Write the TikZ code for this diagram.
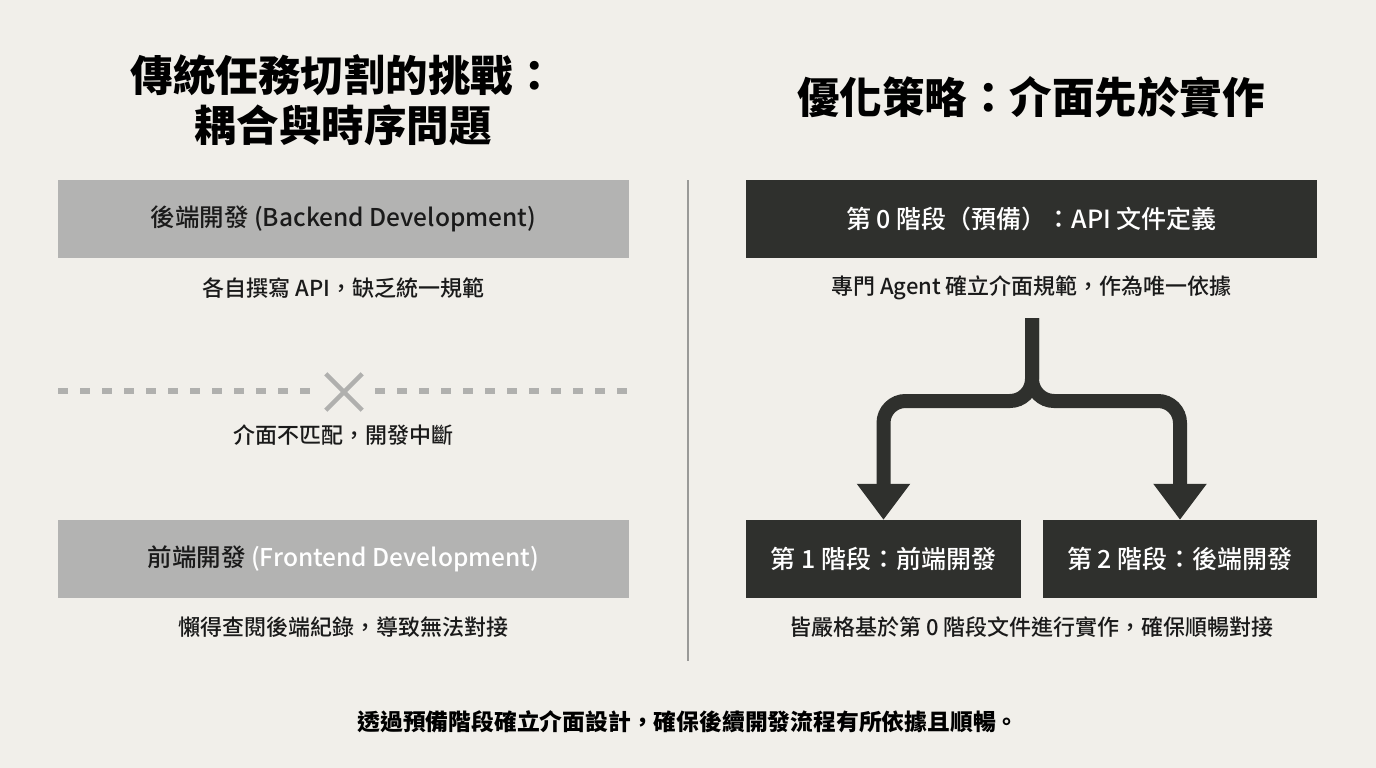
\documentclass[tikz,border=0pt]{standalone}
\usepackage{fontspec}
\setmainfont{Noto Sans CJK TC}
\newfontfamily\medfont{Noto Sans CJK TC Medium}
\usetikzlibrary{arrows.meta}
\definecolor{bg}{HTML}{F1EFEA}
\definecolor{greybox}{HTML}{B3B3B2}
\definecolor{darkbox}{HTML}{2F302D}
\definecolor{ink}{HTML}{1A1A1A}
\definecolor{dashgrey}{HTML}{B0B0AE}
\definecolor{divider}{HTML}{9A9A98}
\tikzset{
  greyblock/.style={fill=greybox, draw=none, minimum width=571pt, minimum height=78pt, inner sep=0pt, text=ink, font=\medfont\fontsize{24.5}{28}\selectfont},
  darkblock/.style={fill=darkbox, draw=none, minimum height=78pt, inner sep=0pt, text=white, font=\medfont\fontsize{25}{28}\selectfont},
  caption/.style={text=ink, inner sep=0pt, font=\medfont\fontsize{22}{26}\selectfont},
  titletext/.style={text=black, inner sep=0pt, align=center, font=\bfseries\fontsize{42.5}{50}\selectfont},
  flowarrow/.style={draw=darkbox, line width=14pt, rounded corners=22pt, -{Triangle[width=51pt,length=36pt]}},
  dashline/.style={dashgrey, line width=6pt, dash pattern=on 10pt off 12pt},
  crossline/.style={dashgrey, line width=4.5pt},
}
\begin{document}
\begin{tikzpicture}[x=1pt,y=-1pt]
\fill[bg] (0,0) rectangle (1376,768);
\useasboundingbox (0,0) rectangle (1376,768);

% titles
\node[titletext] (ltitle) at (343,100) {傳統任務切割的挑戰：\\耦合與時序問題};
\node[titletext] (rtitle) at (1031,97) {優化策略：介面先於實作};

% divider
\coordinate (dtop) at (688,180);
\coordinate (dbot) at (688,661);
\draw[divider, line width=1.2pt] (dtop) -- (dbot);

% left column
\node[greyblock] (back) at (343.5,219) {後端開發 (Backend Development)};
\node[caption] (backcap) at (343.5,288) {各自撰寫 API，缺乏統一規範};

\node[inner sep=0pt, minimum size=40pt] (cross) at (344,392) {};
\coordinate (dl) at (58,391);
\coordinate (dr) at (629,391);
\draw[dashline] (dl) -- ([xshift=-10pt]cross.west |- dl);
\draw[dashline] ([xshift=11pt]cross.east |- dr) -- (dr);
\draw[crossline] ([shift={(2,2)}]cross.north west) -- ([shift={(-2,-2)}]cross.south east);
\draw[crossline] ([shift={(-2,2)}]cross.north east) -- ([shift={(2,-2)}]cross.south west);
\node[caption] (gapcap) at (343.5,435) {介面不匹配，開發中斷};

\node[greyblock] (front) at (343.5,559) {前端開發 \textcolor{white}{(Frontend Development)}};
\node[caption] (frontcap) at (343.5,627) {懶得查閱後端紀錄，導致無法對接};

% right column
\node[darkblock, minimum width=571pt] (st0) at (1031.5,219) {第 0 階段（預備）：API 文件定義};
\node[caption] (st0cap) at (1031.5,288) {專門 Agent 確立介面規範，作為唯一依據};

\node[darkblock, minimum width=275pt] (st1) at (883.5,559) {第 1 階段：前端開發};
\node[darkblock, minimum width=274pt] (st2) at (1180,559) {第 2 階段：後端開發};
\node[caption] (stcap) at (1031.5,627) {皆嚴格基於第 0 階段文件進行實作，確保順暢對接};

\coordinate (stem) at (1032,318);
\draw[flowarrow] (stem) -- (1032,401) -| (st1.north);
\draw[flowarrow] (stem) -- (1032,401) -| (st2.north);

% bottom
\node[text=black, inner sep=0pt, font=\bfseries\fontsize{22.8}{26}\selectfont] (summary) at (688,722) {透過預備階段確立介面設計，確保後續開發流程有所依據且順暢。};
\end{tikzpicture}
\end{document}
